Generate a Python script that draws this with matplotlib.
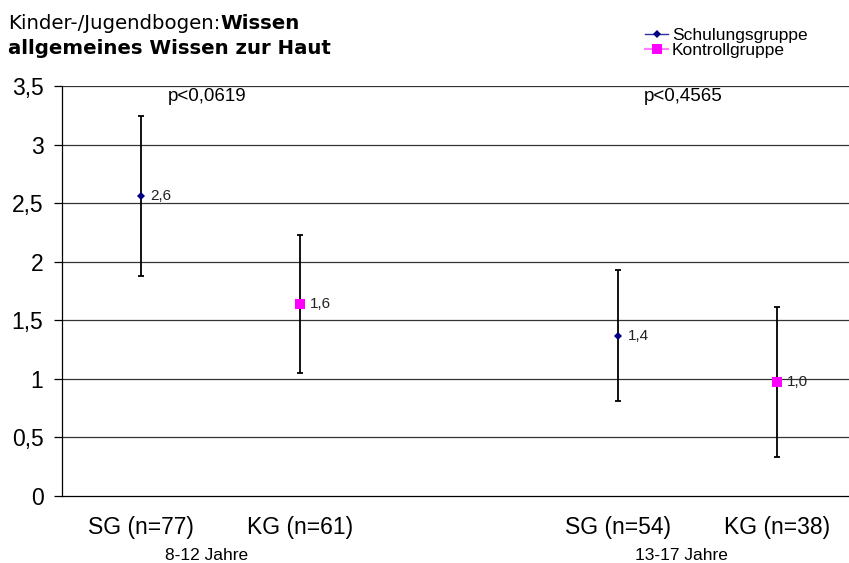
import matplotlib.pyplot as plt

plt.rcParams['font.family'] = ['Liberation Sans', 'DejaVu Sans']

# group positions on the category axis (slot 2 is left empty as a gap)
positions = [0, 1, 3, 4]
tick_labels = ['SG (n=77)', 'KG (n=61)', 'SG (n=54)', 'KG (n=38)']
groups = ['SG', 'KG', 'SG', 'KG']
means = [2.56, 1.64, 1.37, 0.97]
sds = [0.68, 0.59, 0.56, 0.64]
age_groups = ['8-12 Jahre', '13-17 Jahre']
age_pos = [0.41, 3.40]
p_values = ['p<0,0619', 'p<0,4565']
p_pos = [0.415, 3.41]

styles = {
    'SG': dict(marker='D', color='#000080', ms=4.5),
    'KG': dict(marker='s', color='#FF00FF', ms=7),
}
legend_labels = {'SG': 'Schulungsgruppe', 'KG': 'Kontrollgruppe'}
legend_lines = {'SG': '#3030A0', 'KG': '#FF80FF'}


def comma(v, fmt='%.1f'):
    return (fmt % v).replace('.', ',')


W, H = 849, 563
fig = plt.figure(figsize=(W / 100, H / 100), dpi=100)
ax = fig.add_axes([61.5 / W, 67 / H, 787.5 / W, 410 / H])

ax.set_xlim(-0.5, 4.453)
ax.set_ylim(0, 3.5)

yticks = [0, 0.5, 1, 1.5, 2, 2.5, 3, 3.5]
ax.set_yticks(yticks)
ax.set_yticklabels([comma(v, '%g') for v in yticks], fontsize=16.5)
for v in yticks[1:]:
    ax.axhline(v, color='0.2', lw=0.9, zorder=1)

ax.set_xticks(positions)
ax.set_xticklabels(tick_labels, fontsize=16.5)
ax.tick_params(axis='x', length=0, pad=14.5)
ax.tick_params(axis='y', length=6, width=0.9, pad=7, color='black')

for side in ['top', 'right']:
    ax.spines[side].set_visible(False)
ax.spines['left'].set_linewidth(0.9)
ax.spines['bottom'].set_linewidth(0.9)

for x, m, sd, g in zip(positions, means, sds, groups):
    st = styles[g]
    ax.errorbar(x, m, yerr=sd, fmt='none', ecolor='black', elinewidth=1.3,
                capsize=2.3, capthick=1.3, zorder=3)
    ax.plot(x, m, linestyle='none', marker=st['marker'], color=st['color'],
            markersize=st['ms'], markeredgewidth=0, zorder=4)
    ax.annotate(comma(m), (x, m), xytext=(7, 0), textcoords='offset points',
                ha='left', va='center', fontsize=11, color='#222222')

# p-values per age group
for x0, p in zip(p_pos, p_values):
    ax.text(x0, 3.41, p, ha='center', va='center', fontsize=13.5)

# age group labels below the tick labels
for x0, lab in zip(age_pos, age_groups):
    ax.annotate(lab, (x0, 0), xytext=(0, -46.3), textcoords='offset points',
                ha='center', va='baseline', fontsize=12.5, annotation_clip=False)

# two-line title, first line partly bold
title_font = dict(family='DejaVu Sans', fontsize=14.2)
t1 = fig.text(8 / W, 1 - 29 / H, 'Kinder-/Jugendbogen:', ha='left', va='baseline',
              **title_font)
fig.canvas.draw()
bb = t1.get_window_extent()
fig.text(bb.x1 / W, 1 - 29 / H, 'Wissen', fontweight='bold', ha='left',
         va='baseline', **title_font)
fig.text(8 / W, 1 - 54 / H, 'allgemeines Wissen zur Haut', fontweight='bold',
         ha='left', va='baseline', **title_font)

# legend, drawn row by row in figure pixels
for i, g in enumerate(['SG', 'KG']):
    yc = 1 - (34 + 15 * i) / H
    st = styles[g]
    fig.add_artist(plt.Line2D([645 / W, 668 / W], [yc, yc], color=legend_lines[g],
                              lw=1.0 if g == 'SG' else 1.6))
    fig.add_artist(plt.Line2D([656.5 / W], [yc], marker=st['marker'], color=st['color'],
                              markersize=st['ms'], markeredgewidth=0, linestyle='none'))
    fig.text(672 / W, yc, legend_labels[g], fontsize=12.5, ha='left', va='center_baseline')

fig.savefig('out.png', dpi=100)
